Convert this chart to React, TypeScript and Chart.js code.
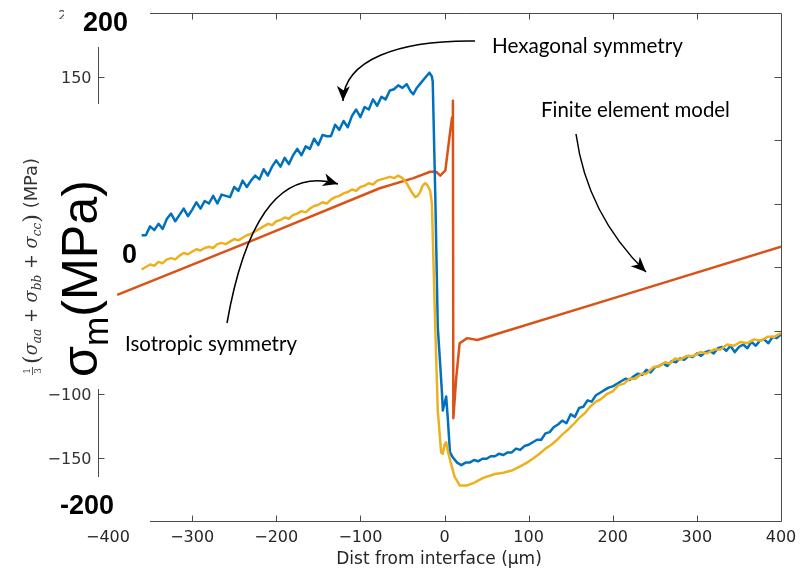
import React, { useEffect, useRef } from 'react';
import { Chart, registerables } from 'chart.js';

Chart.register(...registerables);

// ---------------- data ----------------
const X_TICKS = [-400, -300, -200, -100, 0, 100, 200, 300, 400];
const FRAME_X_TICKS = [-300, -200, -100, 0, 100, 200, 300];
const RIGHT_Y_TICKS = [150, 100, 50, 0, -50, -100, -150];
const LEFT_Y_TICKS = [150, -100, -150];
const BOLD_Y_LABELS = ['200', '0', '-200'];
const X_TITLE = 'Dist from interface (µm)';
const SERIES_NAMES = ['Hexagonal symmetry', 'Isotropic symmetry', 'Finite element model'];

const HEX_X = [
  -360, -355, -350, -345, -340, -335, -330, -325, -320, -315, -310, -305, -300, -295, -290, -285, -280, -275, -270, -265,
  -260, -255, -250, -245, -240, -235, -230, -225, -220, -215, -210, -205, -200, -195, -190, -185, -180, -175, -170, -165,
  -160, -155, -150, -145, -140, -135, -130, -125, -120, -115, -110, -105, -100, -95, -90, -85, -80, -75, -70, -65,
  -60, -55, -50, -45, -40, -37, -33, -28, -23, -18, -15, -14, -11, -8, -3, -2, 2, 4, 6.5,
  10, 15, 20, 25, 30, 35, 40, 45, 50, 55, 60, 65, 70, 75, 80, 85, 90, 95, 100,
  105, 110, 115, 120, 125, 130, 135, 140, 145, 150, 155, 160, 165, 170, 175, 180, 185, 190, 195, 200,
  205, 210, 215, 220, 225, 230, 235, 240, 245, 250, 255, 260, 265, 270, 275, 280, 285, 290, 295, 300,
  305, 310, 315, 320, 325, 330, 335, 340, 345, 350, 355, 360, 365, 370, 375, 380, 385, 390, 395, 400,
];
const HEX_Y = [
  25, 25, 32, 29, 34, 30, 38, 42, 36, 41, 46, 40, 45, 51, 46, 52, 50, 56, 50, 57,
  56, 55, 63, 60, 68, 63, 68, 72, 69, 77, 72, 79, 84, 79, 86, 81, 88, 93, 88, 95,
  93, 101, 96, 104, 103, 103, 112, 108, 115, 110, 119, 124, 118, 126, 124, 132, 127, 134, 132, 139,
  140, 143, 141, 144, 138, 136, 141, 145, 149, 153, 150, 146, 58, -47, -99, -113, -102, -120, -146,
  -150, -154, -156, -154, -154, -152, -153, -151, -151, -149, -149, -147, -148, -146, -146, -143, -144, -141, -140,
  -138, -136, -136, -131, -130, -126, -124, -121, -123, -116, -118, -111, -110, -105, -106, -101, -99, -97, -95, -94,
  -92, -90, -88, -89, -86, -84, -85, -81, -83, -79, -78, -76, -78, -74, -75, -72, -73, -70, -71, -68,
  -70, -67, -66, -68, -64, -63, -66, -62, -67, -63, -61, -64, -59, -62, -58, -57, -60, -55, -56, -53,
];

const ISO_X = [
  -360, -355, -350, -345, -340, -335, -330, -325, -320, -315, -310, -305, -300, -295, -290, -285, -280, -275, -270, -265,
  -260, -255, -250, -245, -240, -235, -230, -225, -220, -215, -210, -205, -200, -195, -190, -185, -180, -175, -170, -165,
  -160, -155, -150, -145, -140, -135, -130, -125, -120, -115, -110, -105, -100, -95, -90, -85, -80, -75, -70, -65,
  -60, -55, -50, -45, -40, -35, -32, -29, -26, -23, -20, -17, -15, -11, -8, -4, -2, 0, 2, 4, 7, 12, 18,
  27, 35, 46, 60, 70, 81, 90, 98, 105, 113, 120, 127, 134, 140, 147, 153, 160, 167, 173, 180,
  186, 193, 200, 207, 213, 220, 227, 234, 240, 248, 256, 262, 268, 274, 280, 288, 296, 304, 312, 320,
  328, 336, 344, 352, 360, 368, 376, 384, 392, 400,
];
const ISO_Y = [
  -2, 0, 2, 1, 4, 3, 6, 7, 6, 9, 11, 10, 12, 14, 13, 15, 16, 15, 18, 19,
  18, 20, 22, 21, 23, 25, 26, 28, 30, 32, 34, 33, 36, 37, 39, 38, 41, 42, 44, 43,
  46, 48, 49, 51, 50, 53, 55, 56, 58, 59, 61, 60, 63, 64, 66, 65, 68, 69, 70, 71,
  70, 72, 70, 66, 60, 55, 56, 59, 64, 66, 64, 60, 50, -47, -113, -146, -147, -140, -138, -145, -153, -165, -172,
  -172, -170, -166, -163, -162, -160, -157, -154, -151, -147, -143, -140, -136, -132, -128, -124, -119, -115, -110, -106,
  -104, -100, -98, -93, -92, -88, -88, -84, -84, -79, -78, -75, -76, -72, -73, -70, -70, -67, -68, -65,
  -65, -61, -62, -59, -60, -57, -58, -55, -55, -52,
];

const FEM_X = [-389, -228, -77, -37, -17, -10, -5, 1, 4, 7, 9, 10, 10.5, 14, 18, 27, 39, 66, 206, 400];
const FEM_Y = [-22, 21, 62, 70, 75, 75, 72, 76, 92, 108, 118, 131, -119, -87, -60, -56, -57.5, -52, -23.5, 16];

// ---------------- styles / layout ----------------
const W = 808;
const H = 574;
const COLORS = ['#0072BD', '#EDB120', '#D95319'];
const AXIS_COLOR = '#4a4a4a';
const TEXT_COLOR = '#262626';
const TICK_FONT = '16px "DejaVu Sans"';

const pts = (xs: number[], ys: number[]) => xs.map((x, i) => ({ x, y: ys[i] }));
const fmt = (v: number) => (v < 0 ? '\u2212' + Math.abs(v) : String(v));

function drawArrow(ctx: CanvasRenderingContext2D, p: number[][]) {
  const [p0, p1, p2, p3] = p;
  ctx.beginPath();
  ctx.moveTo(p0[0], p0[1]);
  ctx.bezierCurveTo(p1[0], p1[1], p2[0], p2[1], p3[0], p3[1]);
  ctx.stroke();
  const dx = p3[0] - p2[0];
  const dy = p3[1] - p2[1];
  const L = Math.hypot(dx, dy);
  const ux = dx / L, uy = dy / L;
  const nx = -uy, ny = ux;
  const hl = 15, hw = 6.5;
  const bx = p3[0] - ux * hl, by = p3[1] - uy * hl;
  const mx = p3[0] - ux * hl * 0.72, my = p3[1] - uy * hl * 0.72;
  ctx.beginPath();
  ctx.moveTo(p3[0], p3[1]);
  ctx.lineTo(bx + nx * hw, by + ny * hw);
  ctx.lineTo(mx, my);
  ctx.lineTo(bx - nx * hw, by - ny * hw);
  ctx.closePath();
  ctx.fill();
}

function fitSize(ctx: CanvasRenderingContext2D, text: string, family: string, target: number) {
  ctx.font = `40px ${family}`;
  return (40 * target) / ctx.measureText(text).width;
}

type Seg = { t: string; font: string; dy: number };
function segWidth(ctx: CanvasRenderingContext2D, segs: Seg[]) {
  let w = 0;
  for (const s of segs) {
    ctx.font = s.font;
    w += ctx.measureText(s.t).width;
  }
  return w;
}
function drawSegs(ctx: CanvasRenderingContext2D, segs: Seg[], x0: number) {
  let x = x0;
  for (const s of segs) {
    ctx.font = s.font;
    ctx.fillText(s.t, x, s.dy);
    x += ctx.measureText(s.t).width;
  }
  return x;
}

const decor = {
  id: 'decor',
  afterDatasetsDraw(chart: any) {
    const ctx: CanvasRenderingContext2D = chart.ctx;
    const sx = chart.scales.x;
    const sy = chart.scales.y;
    const X = (v: number) => sx.getPixelForValue(v);
    const Y = (v: number) => sy.getPixelForValue(v);
    ctx.save();

    // frame (box from -350 to 400)
    const left = Math.round(X(-350));
    const right = Math.round(X(400)) + 0.5;
    const top = Math.round(Y(200)) + 0.5;
    const bottom = Math.round(Y(-200)) + 0.5;
    ctx.strokeStyle = AXIS_COLOR;
    ctx.lineWidth = 1;
    ctx.beginPath();
    ctx.moveTo(left, top);
    ctx.lineTo(right, top);
    ctx.lineTo(right, bottom);
    ctx.lineTo(left, bottom);
    for (const v of FRAME_X_TICKS) {
      const px = Math.round(X(v)) + 0.5;
      ctx.moveTo(px, top);
      ctx.lineTo(px, top + 6);
      ctx.moveTo(px, bottom);
      ctx.lineTo(px, bottom - 6);
    }
    for (const v of RIGHT_Y_TICKS) {
      const py = Math.round(Y(v)) + 0.5;
      ctx.moveTo(right, py);
      ctx.lineTo(right - 7, py);
    }
    // left partial axis
    const ax = Math.round(X(-400)) - 10 + 0.5;
    ctx.moveTo(ax, Math.round(Y(173)));
    ctx.lineTo(ax, Math.round(Y(128)));
    ctx.moveTo(ax, Math.round(Y(-96)));
    ctx.lineTo(ax, Math.round(Y(-165)));
    for (const v of LEFT_Y_TICKS) {
      const py = Math.round(Y(v)) + 0.5;
      ctx.moveTo(ax, py);
      ctx.lineTo(ax + 6, py);
    }
    ctx.stroke();

    ctx.fillStyle = '#333333';
    ctx.font = TICK_FONT;
    ctx.textAlign = 'right';
    ctx.textBaseline = 'alphabetic';
    for (const v of LEFT_Y_TICKS) ctx.fillText(fmt(v), ax - 7, Y(v) + 6);

    // partial "2"
    ctx.save();
    ctx.beginPath();
    ctx.rect(50, 0, 14, 19);
    ctx.clip();
    ctx.fillStyle = '#555';
    ctx.textAlign = 'left';
    ctx.font = '14px "DejaVu Sans"';
    ctx.fillText('2', 58, 20);
    ctx.restore();

    // bold labels
    ctx.fillStyle = '#000';
    ctx.textAlign = 'left';
    ctx.font = 'bold 27px "Liberation Sans"';
    const boldPos = [[83, 31], [122, 263], [60, 514]];
    BOLD_Y_LABELS.forEach((t, i) => ctx.fillText(t, boldPos[i][0], boldPos[i][1]));

    // x title
    ctx.fillStyle = TEXT_COLOR;
    ctx.textAlign = 'center';
    ctx.font = '17px "DejaVu Sans"';
    ctx.fillText(X_TITLE, 439, 564);

    // big rotated label  σm(MPa)
    {
      const base = 48;
      const mk = (F: number): Seg[] => [
        { t: '\u03c3', font: `${F}px "Liberation Sans"`, dy: 0 },
        { t: 'm', font: `${F * 0.7}px "Liberation Sans"`, dy: F * 0.21 },
        { t: '(MPa)', font: `${F}px "Liberation Sans"`, dy: 0 },
      ];
      const F = (base * 197) / segWidth(ctx, mk(base));
      ctx.save();
      ctx.translate(97, 377);
      ctx.rotate(-Math.PI / 2);
      ctx.fillStyle = '#000';
      ctx.textAlign = 'left';
      drawSegs(ctx, mk(F), 0);
      ctx.restore();
    }

    // small rotated LaTeX-like label
    {
      const mk = (s: number): Seg[] => {
        const it = `italic ${s}px "DejaVu Serif"`;
        const sub = `italic ${s * 0.68}px "DejaVu Serif"`;
        const rm = `${s}px "DejaVu Serif"`;
        const big = `${s * 1.25}px "DejaVu Serif"`;
        return [
          { t: '(', font: big, dy: s * 0.1 },
          { t: '\u03c3', font: it, dy: 0 },
          { t: 'aa', font: sub, dy: s * 0.25 },
          { t: ' + ', font: rm, dy: 0 },
          { t: '\u03c3', font: it, dy: 0 },
          { t: 'bb', font: sub, dy: s * 0.25 },
          { t: ' + ', font: rm, dy: 0 },
          { t: '\u03c3', font: it, dy: 0 },
          { t: 'cc', font: sub, dy: s * 0.25 },
          { t: ')', font: big, dy: s * 0.1 },
          { t: ' (MPa)', font: `${s * 1.0}px "DejaVu Sans"`, dy: 0 },
        ];
      };
      const fracW = 11;
      const s = (14 * (217 - fracW)) / segWidth(ctx, mk(14));
      ctx.save();
      ctx.translate(37, 375);
      ctx.rotate(-Math.PI / 2);
      ctx.fillStyle = '#333';
      ctx.strokeStyle = '#333';
      ctx.textAlign = 'center';
      ctx.font = '9px "DejaVu Serif"';
      ctx.fillText('1', 4, -7);
      ctx.fillText('3', 4, 3.5);
      ctx.lineWidth = 0.8;
      ctx.beginPath();
      ctx.moveTo(0, -4.5);
      ctx.lineTo(8, -4.5);
      ctx.stroke();
      ctx.textAlign = 'left';
      drawSegs(ctx, mk(s), fracW);
      ctx.restore();
    }

    // annotations
    ctx.fillStyle = '#000';
    ctx.textAlign = 'left';
    const ann = [
      { i: 0, x: 492, y: 53, w: 191 },
      { i: 2, x: 541, y: 117, w: 189 },
      { i: 1, x: 125, y: 351, w: 172 },
    ];
    for (const a of ann) {
      const t = SERIES_NAMES[a.i];
      const f = fitSize(ctx, t, 'Lato', a.w);
      ctx.font = `${f}px Lato`;
      ctx.fillText(t, a.x, a.y);
    }

    // arrows
    ctx.strokeStyle = '#000';
    ctx.fillStyle = '#000';
    ctx.lineWidth = 1.5;
    drawArrow(ctx, [[475, 41], [398, 40], [344, 60], [343, 101]]);
    drawArrow(ctx, [[576, 134], [583, 185], [605, 232], [646, 272]]);
    drawArrow(ctx, [[227, 323], [243, 232], [275, 165], [338, 184]]);

    ctx.restore();
  },
};

export default function App() {
  const ref = useRef<HTMLCanvasElement>(null);
  useEffect(() => {
    const chart = new Chart(ref.current as HTMLCanvasElement, {
      type: 'line',
      data: {
        datasets: [
          { label: SERIES_NAMES[0], data: pts(HEX_X, HEX_Y), borderColor: COLORS[0], order: 1 },
          { label: SERIES_NAMES[1], data: pts(ISO_X, ISO_Y), borderColor: COLORS[1], order: 0 },
          { label: SERIES_NAMES[2], data: pts(FEM_X, FEM_Y), borderColor: COLORS[2], order: 2 },
        ].map((d) => ({
          ...d,
          borderWidth: 2.5,
          pointRadius: 0,
          tension: 0,
          fill: false,
          borderJoinStyle: 'round' as const,
        })),
      },
      options: {
        responsive: false,
        animation: false,
        devicePixelRatio: 1,
        layout: { padding: { left: 108, right: 27, top: 13, bottom: 0 } },
        plugins: { legend: { display: false }, tooltip: { enabled: false } },
        scales: {
          x: {
            type: 'linear',
            min: -400,
            max: 400,
            afterBuildTicks: (s: any) => {
              s.ticks = X_TICKS.map((v) => ({ value: v }));
            },
            afterFit: (s: any) => {
              s.height = 53;
            },
            grid: { display: false, drawTicks: false },
            border: { display: false },
            ticks: {
              autoSkip: false,
              maxRotation: 0,
              padding: 7,
              color: TEXT_COLOR,
              font: { family: 'DejaVu Sans', size: 16 },
              callback: (v: any) => fmt(Number(v)),
            },
          },
          y: { type: 'linear', display: false, min: -200, max: 200 },
        },
      },
      plugins: [decor],
    } as any);
    return () => chart.destroy();
  }, []);
  return (
    <div style={{ position: 'fixed', left: 0, top: 0, width: W, height: H, background: '#fff' }}>
      <canvas ref={ref} width={W} height={H} style={{ display: 'block', width: W, height: H }} />
    </div>
  );
}
